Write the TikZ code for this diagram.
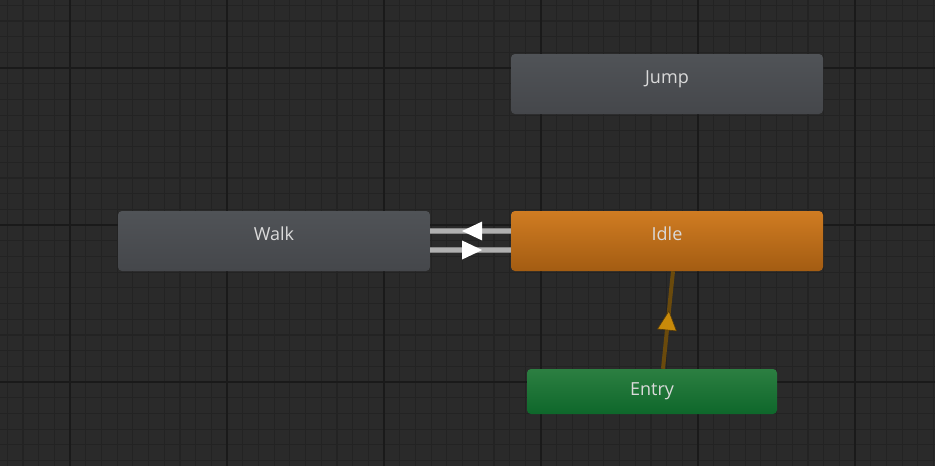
\documentclass[tikz,border=0pt]{standalone}
\usepackage{fontspec}
\setmainfont{Open Sans}
\usetikzlibrary{decorations.markings}
\definecolor{bgc}{HTML}{2A2A2A}
\definecolor{minorc}{HTML}{232323}
\definecolor{majorc}{HTML}{1A1A1A}
\definecolor{grayT}{HTML}{505357}
\definecolor{grayB}{HTML}{45474B}
\definecolor{orT}{HTML}{D07C22}
\definecolor{orB}{HTML}{A35C12}
\definecolor{grT}{HTML}{2C7F41}
\definecolor{grB}{HTML}{0E672B}
\definecolor{txt}{HTML}{DADADA}
\definecolor{trans}{HTML}{B0B0B0}
\definecolor{transedge}{HTML}{858585}
\definecolor{entryline}{HTML}{6A4A0C}
\definecolor{entrytri}{HTML}{C88A0A}
\begin{document}
\begin{tikzpicture}[x=1pt,y=-1pt,
  statebox/.style={rectangle, rounded corners=4pt, inner sep=0pt,
    minimum width=312pt, minimum height=60pt, text=txt, font=\fontsize{18}{20}\selectfont},
  graystate/.style={statebox, top color=grayT, bottom color=grayB},
  orangestate/.style={statebox, top color=orT, bottom color=orB},
  entrystate/.style={statebox, minimum width=250pt, minimum height=45pt, top color=grT, bottom color=grB},
  transline/.style={line width=5.5pt, draw=transedge, postaction={draw=trans, line width=3.5pt}},
  trimark/.style={postaction={decorate}, decoration={markings,
    mark=at position #1 with {\fill[white] (10,0) -- (-10,9.5) -- (-10,-9.5) -- cycle;}}},
  entrymark/.style={postaction={decorate}, decoration={markings,
    mark=at position #1 with {\fill[entrytri, draw=entryline!80!black, line width=0.6pt] (9,0) -- (-10,9.5) -- (-10,-9.5) -- cycle;}}}
]
\fill[bgc] (0,0) rectangle (935,466);
\useasboundingbox (0,0) rectangle (935,466);
% grid
\foreach \i in {0,...,59} {
  \draw[minorc, line width=1.2pt] ({7.2+15.7*\i},0) -- ({7.2+15.7*\i},466);
}
\foreach \i in {0,...,29} {
  \draw[minorc, line width=1.2pt] (0,{5.2+15.7*\i}) -- (935,{5.2+15.7*\i});
}
\foreach \xx in {70,227,384,541,698,855} {
  \draw[majorc, line width=1.5pt] (\xx,0) -- (\xx,466);
}
\foreach \yy in {68,225,382} {
  \draw[majorc, line width=1.5pt] (0,\yy) -- (935,\yy);
}
% states
\node[graystate] (jump) at (667,84) {\raisebox{14pt}{Jump}};
\node[graystate] (walk) at (274,241) {\raisebox{14pt}{Walk}};
\node[orangestate] (idle) at (667,241) {\raisebox{14pt}{Idle}};
\node[entrystate] (entry) at (652,391.5) {\raisebox{2pt}{Entry}};
% transitions
\draw[transline, trimark=0.48] ([yshift=10pt]idle.west) -- ([yshift=10pt]walk.east);
\draw[transline, trimark=0.52] ([yshift=-9pt]walk.east) -- ([yshift=-9pt]idle.west);
\draw[entryline, line width=4pt, entrymark=0.5] ([xshift=11pt]entry.north) -- ([xshift=6pt]idle.south);
\end{tikzpicture}
\end{document}
